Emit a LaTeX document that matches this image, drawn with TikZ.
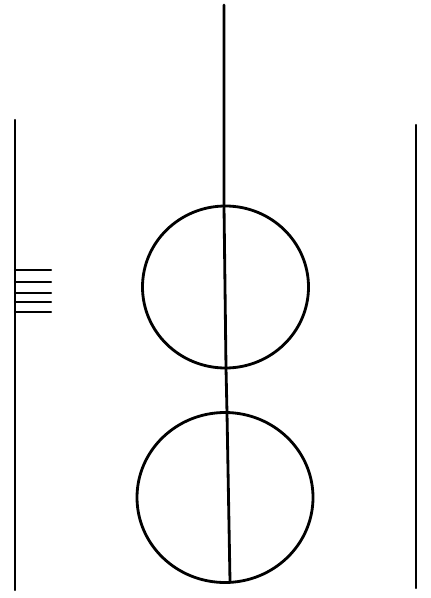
\documentclass[tikz,border=0pt]{standalone}
\usepackage{tikz}
\usetikzlibrary{calc}

\begin{document}
\begin{tikzpicture}[x=0.05cm, y=-0.05cm, line cap=round, line join=round,
    stroke/.style={draw=black, line width=4pt},
    thinstroke/.style={draw=black, line width=3.4pt}]
    % Frame of the picture
    \useasboundingbox (0,0) rectangle (430,598);
    % Left wall with the small ticks
    \draw[thinstroke] (15,120) -- (15,590);
    \foreach \ty in {270,282,293,302,312}
        \draw[thinstroke] (15,\ty) -- (51,\ty);
    % Right wall
    \draw[thinstroke] (416,125) -- (416,588);
    % Upper ball
    \draw[stroke] (225.5,287) ellipse [x radius=83, y radius=81];
    % Lower ball
    \draw[stroke] (225,497.5) ellipse [x radius=88, y radius=85];
    % Middle string through both balls
    \draw[stroke] (224,5) -- (224,206) -- (226,368) -- (227,413) -- (230,581);
\end{tikzpicture}
\end{document}
